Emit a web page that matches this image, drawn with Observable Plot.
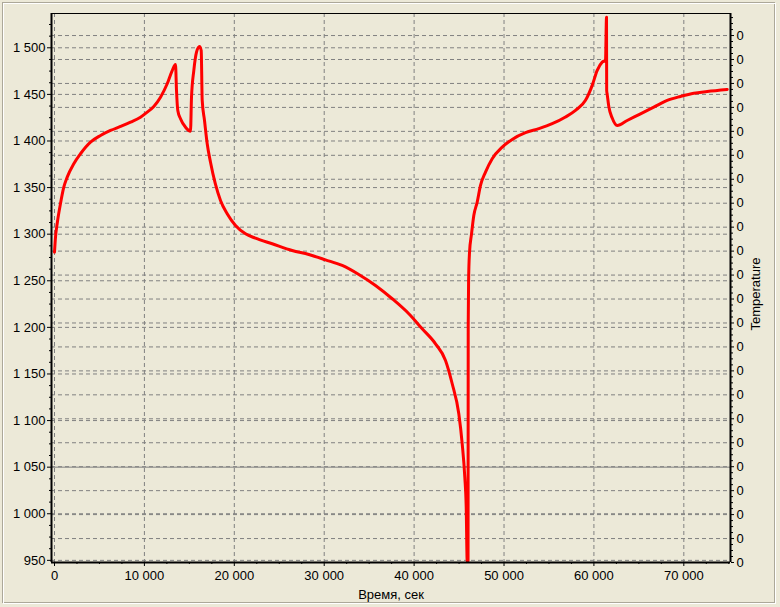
<!DOCTYPE html>
<html><head><meta charset="utf-8">
<script src="https://cdn.jsdelivr.net/npm/d3@7"></script>
<script src="https://cdn.jsdelivr.net/npm/@observablehq/plot@0.6"></script>
<style>
html,body{margin:0;padding:0;background:#ECE9D8;}
</style></head><body><div id="chart"></div>
<script>
const timeSec = [0,111,300,667,1034,1413,2147,2892,4004,5117,6229,7341,8453,9566,10311,11045,11790,12536,13092,13459,13570,13715,14015,14571,15127,15239,15495,15795,16128,16318,16429,16685,16985,17352,18464,19209,20133,21245,22357,24215,26440,28286,30143,32001,33848,35705,37562,39410,40900,42379,43492,44237,44971,45349,45638,45794,45905,46000,46017,46060,46160,46383,46639,47017,47384,47940,48686,49798,50910,52389,53868,55359,56839,57951,59063,59809,60365,60921,61288,61400,61420,61478,61656,62034,62590,63702,65182,66661,68152,69631,71110,72601,74826];
const values = [1280.7,1296.8,1311.5,1332.9,1350.4,1361.2,1375.6,1386.3,1398.7,1405.9,1411.3,1415.6,1420.2,1425.5,1430.9,1437.0,1447.0,1461.4,1475.6,1482.1,1454.2,1432.7,1423.8,1414.8,1410.5,1447.0,1475.6,1495.3,1501.4,1497.1,1443.5,1422.0,1397.0,1377.2,1336.2,1321.9,1309.3,1300.4,1295.7,1289.7,1282.5,1278.2,1272.5,1266.4,1256.7,1244.9,1230.7,1214.6,1198.5,1182.4,1164.5,1139.5,1107.3,1075.1,1039.3,1007.1,949,949.5,1200,1250,1280,1300,1320.1,1334.4,1352.3,1366.6,1381.0,1393.4,1401.7,1408.9,1413.2,1418.5,1425.7,1432.9,1443.6,1459.7,1475.8,1484.7,1486.5,1532.8,1454.2,1450,1437,1424.6,1416.6,1422.0,1429.1,1436.3,1443.5,1447.8,1451.3,1453.1,1455.3];
const xTicks = [0,10000,20000,30000,40000,50000,60000,70000];
const yTicks = [950,1000,1050,1100,1150,1200,1250,1300,1350,1400,1450,1500];
const tempTickValues = d3.range(0, 23);
const tempTickLabel = "0";
const xLabel = "Время, сек";
const rightLabel = "Temperature";

const xDomain = [-334, 75192];
const yDomain = [947.7, 1536.8];
const tempDomain = [0, 22.92];
const tempToY = t => yDomain[0] + (t - tempDomain[0]) / (tempDomain[1] - tempDomain[0]) * (yDomain[1] - yDomain[0]);
const tempMajor = tempTickValues.map(tempToY);
const tempMinor = d3.range(0, 22.9, 0.25).filter(t => t % 1 !== 0).map(tempToY);
const xMinor = d3.range(0, 75001, 2500).filter(d => d % 10000 !== 0);
const yMinor = d3.range(950, 1537, 12.5).filter(d => d % 50 !== 0);
const fmt = d => d3.format(",")(d).replace(/,/g, " ");

const data = timeSec.map((t, i) => ({t, v: values[i]}));
const grid = {stroke: "#808080", strokeOpacity: 1, strokeWidth: 1, strokeDasharray: "4,3"};

const chart = Plot.plot({
  width: 780, height: 607,
  marginLeft: 51, marginRight: 50, marginTop: 13, marginBottom: 45,
  x: {domain: xDomain},
  y: {domain: yDomain},
  style: {background: "#ECE9D8", fontFamily: "'Liberation Sans', Arial, sans-serif", fontSize: "13px", color: "#000"},
  marks: [
    Plot.ruleX(xTicks, grid),
    Plot.ruleY(yTicks.filter(d => d !== 1050), grid),
    Plot.ruleY(tempMajor, grid),
    Plot.ruleY([1050], {stroke: "#808080", strokeWidth: 1}),
    Plot.line(data, {x: "t", y: "v", stroke: "#ff0000", strokeWidth: 3, curve: "monotone-x"}),
    Plot.ruleY([yDomain[1]], {stroke: "#000", strokeWidth: 1}),
    Plot.ruleY([yDomain[0]], {stroke: "#000", strokeWidth: 2}),
    Plot.ruleX([xDomain[0]], {stroke: "#000", strokeWidth: 2}),
    Plot.ruleX([xDomain[1]], {stroke: "#000", strokeWidth: 2}),
    Plot.axisX({ticks: xTicks, tickFormat: fmt, tickSize: 4, tickPadding: 4, label: null}),
    Plot.axisX({ticks: xMinor, text: null, tickSize: 2, label: null}),
    Plot.axisY({ticks: yTicks, tickFormat: fmt, tickSize: 4, tickPadding: 2, label: null}),
    Plot.axisY({ticks: yMinor, text: null, tickSize: 2, label: null}),
    Plot.axisY({anchor: "right", ticks: tempMajor, tickFormat: () => tempTickLabel, tickSize: 3, tickPadding: 3, label: null}),
    Plot.axisY({anchor: "right", ticks: tempMinor, text: null, tickSize: 2, label: null}),
    Plot.text([xLabel], {frameAnchor: "bottom", lineAnchor: "bottom", textAnchor: "middle", dy: 36, fontSize: 13}),
    Plot.text([rightLabel], {frameAnchor: "right", textAnchor: "middle", lineAnchor: "middle", dx: 25, dy: 6, rotate: -90, fontSize: 13})
  ]
});

const svg = d3.select(chart);
svg.insert("rect", ":first-child").attr("x", 3.5).attr("y", 3.5).attr("width", 772).attr("height", 600)
  .attr("fill", "none").attr("stroke", "#ffffff");
svg.insert("rect", ":first-child").attr("x", 2.5).attr("y", 2.5).attr("width", 772).attr("height", 600)
  .attr("fill", "none").attr("stroke", "#ACA899");
document.getElementById("chart").appendChild(chart);
</script>
</body></html>
